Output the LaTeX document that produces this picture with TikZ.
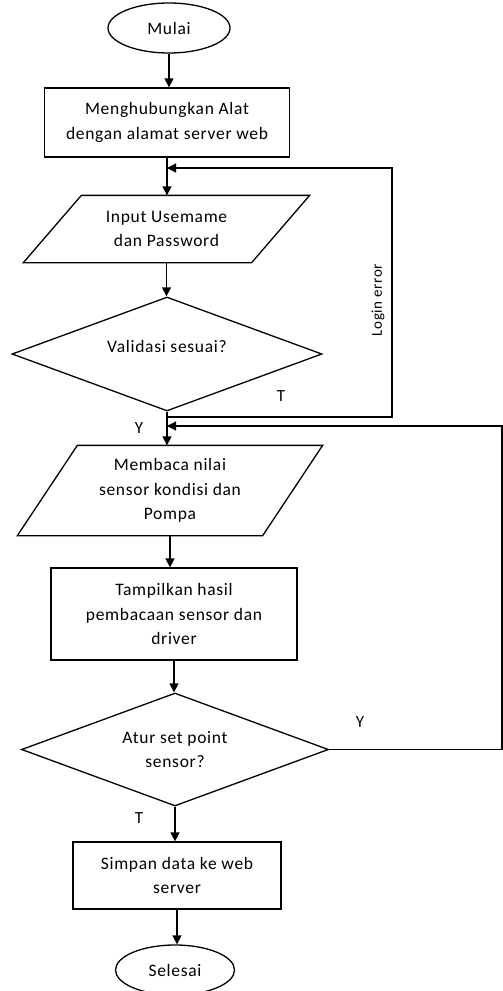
\documentclass[tikz,border=0pt]{standalone}
\usepackage{fontspec}
\setmainfont{Carlito}[LetterSpace=4]
\usetikzlibrary{arrows.meta,shapes.geometric}
\tikzset{
    >={Triangle[length=9pt,width=9pt]},
    flow/.style={
        term/.append style={draw,line width=1.3pt,ellipse,inner sep=0pt,align=center},
        proc/.append style={draw,line width=1.3pt,rectangle,inner sep=0pt,align=center},
        io/.append style={rectangle,inner sep=0pt,align=center},
        dec/.append style={draw,line width=1.3pt,diamond,aspect=2.7,inner sep=0pt,align=center},
        lbl/.append style={font=\fontsize{17}{20}\selectfont},
        every path/.append style={line width=1.3pt}
    }
}

\begin{document}
\begin{tikzpicture}[flow,x=1pt,y=-1pt,font=\fontsize{17.5}{24.5}\selectfont]
    \useasboundingbox (0,0) rectangle (503,991);
    \node[term,minimum width=122pt,minimum height=50pt] (m) at (169,28) {Mulai};
    \node[proc,minimum width=245pt,minimum height=69pt] (a) at (167,122.5) {Menghubungkan Alat\\dengan alamat server web};
    \node[io,minimum width=227pt,minimum height=66pt] (u) at (166.5,229) {Input Usemame\\dan Password};
    \node[dec,minimum width=310pt,minimum height=114pt,text depth=16pt] (v) at (167,354) {Validasi sesuai?};
    \node[io,minimum width=244pt,minimum height=89pt] (b) at (170,490.5) {Membaca nilai\\sensor kondisi dan\\Pompa};
    \node[proc,minimum width=246pt,minimum height=92pt] (t) at (174,614) {Tampilkan hasil\\pembacaan sensor dan\\driver};
    \node[dec,minimum width=307pt,minimum height=113pt] (s) at (175,749.5) {Atur set point\\sensor?};
    \node[proc,minimum width=208pt,minimum height=67pt] (k) at (177,875.5) {Simpan data ke web\\server};
    \node[term,minimum width=119pt,minimum height=50pt] (e) at (175,970) {Selesai};

    % parallelograms
    \draw ([xshift=29pt]u.north west) -- ([xshift=29pt]u.north east) -- ([xshift=-29pt]u.south east) -- ([xshift=-29pt]u.south west) -- cycle;
    \draw ([xshift=30pt]b.north west) -- ([xshift=30pt]b.north east) -- ([xshift=-30pt]b.south east) -- ([xshift=-30pt]b.south west) -- cycle;

    \coordinate (c1) at (392,417);
    \coordinate (c2) at (392,168);
    \coordinate (c3) at (502,426);

    \draw[->] (m.south) -- (m.south |- a.north);
    \draw[->] (a.south) -- (a.south |- u.north);
    \draw[->] (u.south) -- (u.south |- v.north);
    \draw[->] (v.south) -- (v.south |- b.north);
    \draw[->] (b.south) -- (b.south |- t.north);
    \draw[->] (t.south) -- (t.south |- s.north);
    \draw[->] (s.south) -- (s.south |- k.north);
    \draw[->] (k.south) -- (k.south |- e.north);
    \draw[->] (v.south |- c1) -- (c1) -- (c2) -- (a.south |- c2);
    \draw[->] (s.east) -| (c3) -- (v.south |- c3);

    \node[lbl] (lt1) at (281,396) {T};
    \node[lbl] (ly1) at (139,428) {Y};
    \node[lbl] (ly2) at (360,722) {Y};
    \node[lbl] (lt2) at (139,818) {T};
    \node[rotate=90,font=\fontsize{15}{18}\selectfont] (le) at (378,300) {Login error};
\end{tikzpicture}
\end{document}
